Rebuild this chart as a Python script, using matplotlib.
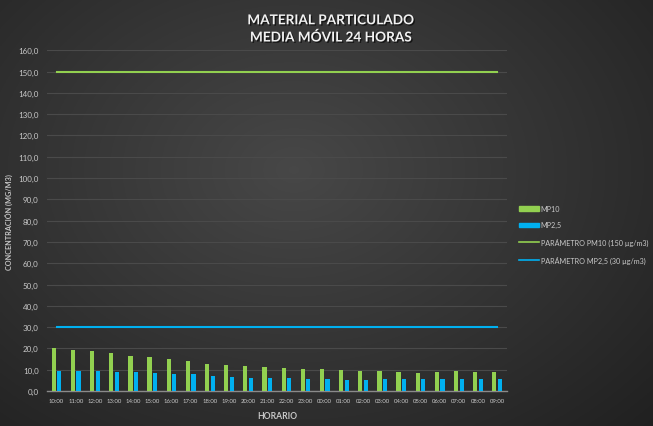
import numpy as np
import matplotlib
matplotlib.use('Agg')
from matplotlib import pyplot as plt
from matplotlib import patheffects as pe
from matplotlib.lines import Line2D
from matplotlib.patches import Patch

hours = ['10:00', '11:00', '12:00', '13:00', '14:00', '15:00', '16:00', '17:00',
         '18:00', '19:00', '20:00', '21:00', '22:00', '23:00', '00:00', '01:00',
         '02:00', '03:00', '04:00', '05:00', '06:00', '07:00', '08:00', '09:00']
mp10 = [20.0, 19.4, 18.6, 17.8, 16.6, 15.9, 14.9, 14.0, 12.7, 12.3, 11.7, 11.2,
        10.9, 10.5, 10.2, 9.8, 9.5, 9.2, 8.7, 8.6, 8.9, 9.2, 9.0, 9.0]
mp25 = [9.4, 9.3, 9.3, 8.9, 8.7, 8.4, 8.1, 7.8, 7.0, 6.8, 6.3, 6.1,
        5.9, 5.6, 5.4, 5.1, 5.1, 5.4, 5.4, 5.4, 5.4, 5.4, 5.4, 5.6]
limit_pm10 = 150
limit_pm25 = 30

GREEN = '#92d050'
BLUE = '#00b0f0'
TXT = '#c8c8c8'

plt.rcParams['font.family'] = ['Lato', 'DejaVu Sans']

fig = plt.figure(figsize=(6.53, 4.27), dpi=100)

# dark radial background
bg = fig.add_axes([0, 0, 1, 1], zorder=-10)
yy, xx = np.mgrid[0:1:300j, 0:1:450j]
r = np.sqrt(((xx - 0.45) / 0.75) ** 2 + ((yy - 0.4) / 0.85) ** 2)
shade = np.clip(0.28 - 0.15 * r, 0.12, 0.29)
bg.imshow(np.dstack([shade] * 3), aspect='auto', extent=[0, 1, 0, 1])
bg.axis('off')

ax = fig.add_axes([0.072, 0.082, 0.704, 0.798])
ax.set_facecolor('none')

x = np.arange(len(hours))
w = 0.22
ax.bar(x - 0.145, mp10, width=w, color=GREEN, zorder=3)
ax.bar(x + 0.145, mp25, width=w, color=BLUE, zorder=3)
ax.plot(x, [limit_pm10] * len(x), color=GREEN, lw=1.5, zorder=4)
ax.plot(x, [limit_pm25] * len(x), color=BLUE, lw=1.5, zorder=4)

ax.set_xlim(-0.5, len(hours) - 0.5)
ax.set_ylim(0, 160)
ax.set_yticks(np.arange(0, 161, 10))
ax.set_yticklabels([f'{v:.1f}'.replace('.', ',') for v in np.arange(0, 161, 10)])
ax.set_xticks(x)
ax.set_xticklabels(hours)
ax.tick_params(axis='y', labelsize=5.8, colors=TXT, length=0, pad=6)
ax.tick_params(axis='x', labelsize=4.3, colors=TXT, length=0, pad=5)
ax.grid(axis='y', color='#4a4a4a', lw=0.8, zorder=0)
for s in ['top', 'right', 'left']:
    ax.spines[s].set_visible(False)
ax.spines['bottom'].set_color('#8a8a8a')
ax.spines['bottom'].set_linewidth(1.0)

ax.set_xlabel('HORARIO', fontsize=6.2, color=TXT, fontweight='bold', labelpad=6)
ax.set_ylabel('CONCENTRACIÓN (MG/M3)', fontsize=5.2, color=TXT, fontweight='bold')
ax.yaxis.set_label_coords(-0.074, 0.5)

title = fig.text(0.507, 0.93, 'MATERIAL PARTICULADO\nMEDIA MÓVIL 24 HORAS', ha='center',
                 va='center', fontsize=9.8, color='#f2f2f2', fontweight='bold',
                 linespacing=1.45)
title.set_path_effects([pe.withSimplePatchShadow(offset=(1, -1), shadow_rgbFace='black', alpha=0.6)])

handles = [Patch(color=GREEN), Patch(color=BLUE),
           Line2D([0], [0], color=GREEN, lw=1.2), Line2D([0], [0], color=BLUE, lw=1.2)]
labels = ['MP10', 'MP2,5', 'PARÁMETRO PM10 (150 µg/m3)', 'PARÁMETRO MP2,5 (30 µg/m3)']
leg = fig.legend(handles, labels, loc='center left', bbox_to_anchor=(0.785, 0.449),
                 frameon=False, fontsize=5.2, labelcolor=TXT, handlelength=2.8,
                 handleheight=0.6, handletextpad=0.2, labelspacing=1.3)

fig.savefig('out.png', dpi=100)
